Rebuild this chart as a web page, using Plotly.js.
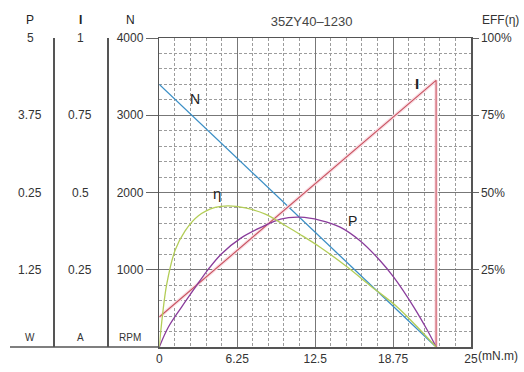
<!DOCTYPE html>
<html><head><meta charset="utf-8">
<script src="https://cdn.plot.ly/plotly-3.0.1.min.js"></script>
<style>html,body{margin:0;padding:0;background:#fff}#c{width:524px;height:372px}</style>
</head><body><div id="c"></div>
<script>
// ---- data ----
const torqueN = [0, 22.2];
const speedN = [3400, 0];

const torqueI = [0, 22.2, 22.2];
const currentI = [0.097, 0.863, 0];

const torqueEff = [0, 0.24, 0.6, 1.26, 2.07, 3.14, 4.48, 5.55, 6.9, 8.5, 10.1, 11.3, 12.9, 15.1, 16.9, 19.1, 21.0, 22.2];
const effPct    = [0, 9.7, 20.4, 31.2, 37.6, 42.5, 45.2, 45.7, 45.0, 43.0, 39.3, 36.4, 32.3, 25.8, 19.9, 12.9, 5.2, 0];

const torqueP = [0, 0.72, 1.8, 2.87, 3.94, 5.0, 6.6, 8.2, 9.73, 11.3, 12.9, 14.5, 16.1, 17.7, 18.8, 20.4, 21.5, 22.2];
const powerW  = [0, 0.32, 0.65, 0.96, 1.26, 1.51, 1.77, 1.94, 2.07, 2.10, 2.05, 1.94, 1.72, 1.40, 1.13, 0.65, 0.27, 0];

const xTickVals = [0, 6.25, 12.5, 18.75, 25];
const xTickText = ['0', '6.25', '12.5', '18.75', '25'];
const nTickVals = [1000, 2000, 3000, 4000];
const nTickText = ['1000', '2000', '3000', '4000'];
const iTickVals = [0.25, 0.5, 0.75, 1];
const iTickText = ['0.25', '0.5', '0.75', '1'];
const pTickVals = [1.25, 2.5, 3.75, 5];
const pTickText = ['1.25', '0.25', '3.75', '5'];
const effTickVals = [25, 50, 75, 100];
const effTickText = ['25%', '50%', '75%', '100%'];

const titleText = '35ZY40\u20131230';
const curveLabels = [
  {t: 'N', x: 2.87, y: 3209, size: 14, bold: false},
  {t: '\u03b7', x: 4.6, y: 1983, size: 15, bold: false},
  {t: 'P', x: 15.5, y: 1635, size: 14, bold: false},
  {t: 'I', x: 20.65, y: 3406, size: 15, bold: true}
];

// ---- layout geometry ----
const W = 524, H = 372, mL = 10, mR = 53, mT = 38, mB = 25;
const pw = W - mL - mR, ph = H - mT - mB;
const px = v => (v - mL) / pw;          // page x -> paper x
const py = v => (H - mB - v) / ph;      // page y -> paper y
const xStart = px(159.3);

const FONT = 'Liberation Sans, Arial, sans-serif';
const TXT = '#333';
const AX = '#555';

const traces = [
  {x: torqueN, y: speedN, type: 'scatter', mode: 'lines', xaxis: 'x', yaxis: 'y',
   line: {color: '#3b8fc6', width: 1.3}, hoverinfo: 'skip'},
  {x: torqueEff, y: effPct, type: 'scatter', mode: 'lines', xaxis: 'x', yaxis: 'y4',
   line: {color: '#b3cd57', width: 1.3, shape: 'spline', smoothing: 1}, hoverinfo: 'skip'},
  {x: torqueP, y: powerW, type: 'scatter', mode: 'lines', xaxis: 'x', yaxis: 'y3',
   line: {color: '#8a3d9c', width: 1.3, shape: 'spline', smoothing: 1}, hoverinfo: 'skip'},
  {x: torqueI, y: currentI, type: 'scatter', mode: 'lines', xaxis: 'x', yaxis: 'y2',
   line: {color: '#f9dde4', width: 3.5}, hoverinfo: 'skip'},
  {x: torqueI, y: currentI, type: 'scatter', mode: 'lines', xaxis: 'x', yaxis: 'y2',
   line: {color: '#c8525f', width: 1.1}, hoverinfo: 'skip'}
];

const annotations = [];
pTickVals.forEach((v, i) => annotations.push({xref: 'paper', yref: 'y3', x: px(30), y: v,
  text: pTickText[i], showarrow: false, xanchor: 'center', yanchor: 'middle', font: {family: FONT, size: 12, color: TXT}}));
iTickVals.forEach((v, i) => annotations.push({xref: 'paper', yref: 'y2', x: px(80), y: v,
  text: iTickText[i], showarrow: false, xanchor: 'center', yanchor: 'middle', font: {family: FONT, size: 12, color: TXT}}));
[['P', 30, false], ['I', 80, true], ['N', 130, false]].forEach(h => annotations.push({
  xref: 'paper', yref: 'paper', x: px(h[1]), y: py(20), text: h[2] ? '<b>' + h[0] + '</b>' : h[0],
  showarrow: false, xanchor: 'center', yanchor: 'middle', font: {family: FONT, size: 12, color: '#222'}}));
[['W', 30], ['A', 80], ['RPM', 130]].forEach(h => annotations.push({
  xref: 'paper', yref: 'paper', x: px(h[1]), y: py(337), text: h[0],
  showarrow: false, xanchor: 'center', yanchor: 'middle', font: {family: FONT, size: 10, color: TXT}}));
annotations.push({xref: 'paper', yref: 'paper', x: px(500), y: py(20), text: 'EFF(\u03b7)', showarrow: false,
  xanchor: 'center', yanchor: 'middle', font: {family: FONT, size: 12, color: TXT}});
annotations.push({xref: 'x', yref: 'paper', x: 25, y: py(356), xshift: 5, text: '(mN.m)', showarrow: false,
  xanchor: 'left', yanchor: 'middle', font: {family: FONT, size: 12, color: TXT}});
curveLabels.forEach(c => annotations.push({xref: 'x', yref: 'y', x: c.x, y: c.y,
  text: c.bold ? '<b>' + c.t + '</b>' : c.t, showarrow: false, xanchor: 'center', yanchor: 'middle',
  font: {family: FONT, size: c.size, color: '#222'}}));

const gridMinor = {showgrid: true, gridcolor: '#9c9c9c', griddash: '3px,2px', gridwidth: 1};

const layout = {
  width: W, height: H,
  margin: {l: mL, r: mR, t: mT, b: mB, pad: 0},
  paper_bgcolor: '#fff', plot_bgcolor: '#fff',
  showlegend: false,
  font: {family: FONT, size: 12, color: TXT},
  title: {text: titleText, x: px(311.7), xref: 'paper', xanchor: 'center',
          y: 1 - 21 / H, yref: 'container', yanchor: 'middle', font: {family: FONT, size: 13, color: '#444'}},
  xaxis: {domain: [xStart, 1], range: [0, 25], tickmode: 'array', tickvals: xTickVals, ticktext: xTickText,
          showgrid: true, gridcolor: '#777', gridwidth: 1, zeroline: false,
          minor: Object.assign({tickmode: 'linear', tick0: 0, dtick: 1.25}, gridMinor),
          showline: true, linecolor: AX, linewidth: 1.5, mirror: true, ticks: '',
          tickfont: {family: FONT, size: 12, color: TXT}, fixedrange: true},
  yaxis: {range: [0, 4000], tickmode: 'array', tickvals: nTickVals, ticktext: nTickText,
          showgrid: true, gridcolor: '#777', gridwidth: 1, zeroline: false,
          minor: Object.assign({tickmode: 'linear', tick0: 0, dtick: 200}, gridMinor),
          showline: true, linecolor: AX, linewidth: 1.5, ticks: 'outside', ticklen: 12, tickcolor: '#666',
          tickfont: {family: FONT, size: 12, color: TXT}, fixedrange: true},
  yaxis2: {range: [0, 1], overlaying: 'y', anchor: 'free', position: px(107.3), side: 'left',
           showline: true, linecolor: AX, linewidth: 1.5, showgrid: false, zeroline: false,
           showticklabels: false, ticks: '', fixedrange: true},
  yaxis3: {range: [0, 5], overlaying: 'y', anchor: 'free', position: px(53.3), side: 'left',
           showline: true, linecolor: AX, linewidth: 1.5, showgrid: false, zeroline: false,
           showticklabels: false, ticks: '', fixedrange: true},
  yaxis4: {range: [0, 100], overlaying: 'y', anchor: 'x', side: 'right',
           tickmode: 'array', tickvals: effTickVals, ticktext: effTickText,
           showline: true, linecolor: AX, linewidth: 1.5, showgrid: false, zeroline: false,
           ticks: 'outside', ticklen: 6, tickcolor: '#666',
           tickfont: {family: FONT, size: 12, color: TXT}, fixedrange: true},
  shapes: [
    {type: 'line', xref: 'paper', yref: 'paper', x0: 0, x1: xStart, y0: 0, y1: 0,
     line: {color: AX, width: 1.5}}
  ],
  annotations: annotations
};

Plotly.newPlot('c', traces, layout, {staticPlot: true, displayModeBar: false});
</script></body></html>
